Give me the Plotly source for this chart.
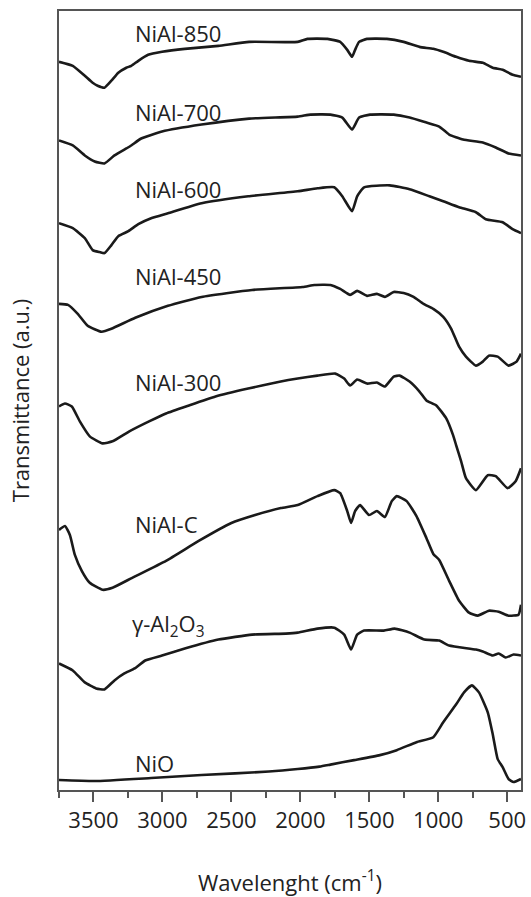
import plotly.graph_objects as go

# Wavenumbers (cm^-1) and transmittance (a.u., vertically offset spectra)
wn_850 = [3750, 3650, 3563, 3506, 3470, 3420, 3370, 3320, 3262, 3226, 3175, 3104, 3003, 2838, 2594, 2371,
          2019, 1948, 1804, 1711, 1660, 1625, 1603, 1574, 1517, 1373, 1251, 1136, 1036, 964, 870, 777,
          677, 605, 533, 461, 400]
t_850 = [731, 727, 717, 710, 707, 705, 712, 720, 725, 727, 732, 738, 741, 744, 747, 751,
         751, 754, 754, 751, 743, 736, 743, 751, 754, 754, 751, 746, 744, 741, 736, 732,
         730, 725, 723, 718, 716]

wn_700 = [3750, 3650, 3563, 3491, 3420, 3348, 3262, 3226, 3154, 3003, 2716, 2371, 2019, 1926, 1782,
          1696, 1625, 1574, 1495, 1323, 1208, 1086, 993, 921, 820, 677, 583, 490, 400]
t_700 = [652, 647, 637, 631, 629, 637, 644, 647, 654, 661, 668, 674, 676, 678, 678,
         675, 663, 675, 678, 678, 675, 670, 666, 658, 653, 650, 645, 639, 637]

wn_600 = [3750, 3650, 3563, 3506, 3456, 3420, 3370, 3320, 3247, 3175, 3082, 2960, 2716, 2378, 2019,
          1876, 1754, 1696, 1625, 1588, 1538, 1352, 1208, 1064, 964, 849, 727, 655, 533, 461, 400]
t_600 = [569, 564, 554, 542, 540, 539, 547, 556, 561, 568, 574, 579, 589, 596, 601,
         604, 605, 596, 581, 596, 605, 607, 603, 596, 591, 585, 580, 573, 570, 563, 559]

wn_450 = [3750, 3685, 3614, 3542, 3441, 3370, 3197, 2960, 2716, 2350, 1983, 1897, 1782, 1711, 1639,
          1588, 1517, 1445, 1387, 1323, 1251, 1179, 1107, 1036, 964, 906, 849, 799, 727, 677, 633,
          569, 490, 432, 400]
t_450 = [488, 487, 478, 466, 460, 463, 474, 486, 495, 502, 505, 507, 507, 503, 497,
         501, 496, 498, 495, 500, 499, 495, 488, 483, 475, 463, 445, 435, 426, 430, 436,
         435, 426, 430, 438]

wn_300 = [3750, 3707, 3657, 3599, 3527, 3434, 3362, 3240, 3097, 2974, 2809, 2615, 2378, 2142, 2019,
          1876, 1747, 1682, 1639, 1588, 1517, 1445, 1387, 1323, 1280, 1208, 1136, 1086, 1014, 942,
          892, 870, 834, 799, 727, 641, 583, 497, 439, 400]
t_300 = [385, 388, 385, 370, 355, 348, 350, 360, 370, 378, 386, 395, 403, 410, 413,
         416, 418, 413, 406, 412, 408, 409, 405, 415, 416, 410, 400, 391, 386, 373,
         356, 346, 330, 313, 301, 316, 315, 303, 310, 323]

wn_c = [3750, 3707, 3671, 3635, 3585, 3527, 3434, 3362, 3219, 2974, 2737, 2500, 2328, 2141, 2019,
        1876, 1754, 1711, 1660, 1632, 1603, 1567, 1502, 1445, 1387, 1337, 1301, 1229, 1158, 1086,
        1036, 993, 921, 849, 777, 713, 633, 562, 490, 418, 400]
t_c = [261, 265, 256, 236, 220, 208, 201, 203, 213, 230, 250, 268, 276, 283, 286,
       295, 301, 298, 280, 268, 280, 286, 276, 280, 274, 290, 295, 290, 275, 253,
       237, 231, 210, 190, 178, 175, 180, 179, 175, 176, 186]

wn_al = [3750, 3650, 3563, 3481, 3420, 3348, 3276, 3201, 3125, 3003, 2838, 2594, 2350, 2106, 2019,
         1876, 1754, 1682, 1632, 1588, 1538, 1395, 1316, 1208, 1100, 993, 921, 727, 677, 605, 562,
         511, 454, 400]
t_al = [127, 120, 108, 102, 101, 110, 117, 122, 130, 135, 142, 151, 156, 157, 158,
        162, 163, 156, 141, 156, 160, 160, 162, 158, 151, 150, 145, 141, 139, 135, 137,
        133, 136, 135]

wn_nio = [3750, 3491, 3082, 2716, 2228, 2019, 1861, 1782, 1610, 1423, 1301, 1158, 1036, 964, 870,
          813, 756, 705, 641, 605, 569, 533, 490, 454, 400]
t_nio = [10, 9, 12, 15, 18.5, 21, 23.5, 25.5, 30, 35, 40, 48, 53, 68, 86,
         98, 105, 98, 78, 56, 31, 23, 11, 8, 11]

series = [
    ("NiAl-850", wn_850, t_850),
    ("NiAl-700", wn_700, t_700),
    ("NiAl-600", wn_600, t_600),
    ("NiAl-450", wn_450, t_450),
    ("NiAl-300", wn_300, t_300),
    ("NiAl-C", wn_c, t_c),
    ("γ-Al<sub>2</sub>O<sub>3</sub>", wn_al, t_al),
    ("NiO", wn_nio, t_nio),
]

# label anchor (left x in cm^-1, vertical centre in a.u.)
label_x = [3215, 3215, 3215, 3215, 3215, 3215, 3235, 3215]
label_y = [760, 681, 603, 516, 410, 267, 166, 27]

tick_vals = [3500, 3000, 2500, 2000, 1500, 1000, 500]
tick_text = ["3500", "3000", "2500", "2000", "1500", "1000", "500"]

FONT = "Open Sans"
FS = 22
fig = go.Figure()
for name, x, y in series:
    fig.add_trace(go.Scatter(x=x, y=y, mode="lines", name=name,
                             line=dict(color="#1a1a1a", width=2.6, shape="spline", smoothing=0.45),
                             hoverinfo="skip", showlegend=False))

for (name, _, _), lx, ly in zip(series, label_x, label_y):
    fig.add_annotation(x=lx, y=ly, text=name, showarrow=False, xanchor="left", yanchor="middle",
                       font=dict(family=FONT, size=FS, color="#222"))

fig.update_layout(
    width=531, height=897,
    margin=dict(l=59, r=5, t=11, b=104),
    paper_bgcolor="white", plot_bgcolor="white",
    font=dict(family=FONT, size=FS, color="#222"),
    xaxis=dict(range=[3750, 400], tickvals=tick_vals, ticktext=tick_text,
               ticks="outside", ticklen=10, tickwidth=1.5, tickcolor="#555",
               minor=dict(dtick=250, tick0=0, ticks="outside", ticklen=6, tickwidth=1.5, tickcolor="#555"),
               showline=True, linecolor="#555", linewidth=1.5, mirror=True,
               showgrid=False, zeroline=False,
               tickfont=dict(family=FONT, size=FS, color="#222"),
               title=dict(text="Wavelenght (cm<sup>-1</sup>)", standoff=42,
                          font=dict(family=FONT, size=FS, color="#222"))),
    yaxis=dict(range=[0, 782], showticklabels=False, ticks="",
               showline=True, linecolor="#555", linewidth=1.5, mirror=True,
               showgrid=False, zeroline=False,
               title=dict(text="Transmittance (a.u.)", standoff=22,
                          font=dict(family=FONT, size=FS, color="#222"))),
)

fig.write_html("out.html")
